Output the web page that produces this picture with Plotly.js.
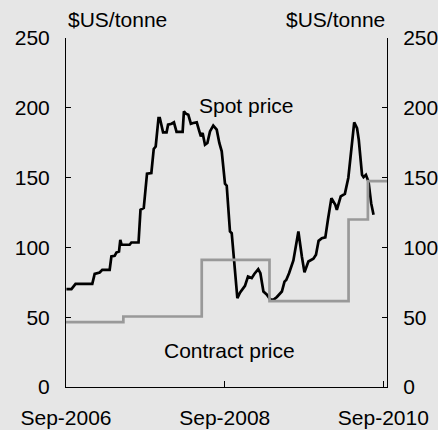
<!DOCTYPE html>
<html>
<head>
<meta charset="utf-8">
<script src="https://cdn.plot.ly/plotly-3.0.1.min.js"></script>
<style>html,body{margin:0;padding:0;background:#e6e6e6;}#chart{width:438px;height:430px;}</style>
</head>
<body>
<div id="chart"></div>
<script>
const spotDates = [
 '2006-09-03','2006-09-26','2006-10-15','2006-12-31','2007-01-11','2007-02-03','2007-02-15','2007-03-21',
 '2007-03-29','2007-04-13','2007-04-21','2007-05-03','2007-05-09','2007-05-15','2007-06-21','2007-06-29',
 '2007-08-01','2007-08-10','2007-08-25','2007-09-09','2007-09-29','2007-10-10','2007-10-19','2007-11-01',
 '2007-11-07','2007-11-22','2007-12-08','2007-12-15','2007-12-31','2008-01-11','2008-01-23','2008-02-20',
 '2008-02-26','2008-03-06','2008-03-17','2008-03-29','2008-04-09','2008-04-25','2008-05-07','2008-05-14',
 '2008-05-22','2008-06-02','2008-06-13','2008-06-25','2008-07-10','2008-07-26','2008-08-07','2008-08-18',
 '2008-08-25','2008-09-02','2008-09-10','2008-09-25','2008-10-03','2008-10-29','2008-11-10','2008-12-03',
 '2008-12-17','2009-01-03','2009-01-15','2009-02-02','2009-02-12','2009-02-26','2009-03-13','2009-03-29',
 '2009-04-13','2009-04-29','2009-05-22','2009-06-03','2009-06-11','2009-06-24','2009-07-14','2009-08-06',
 '2009-08-22','2009-09-03','2009-09-21','2009-10-14','2009-10-26','2009-11-07','2009-11-22','2009-12-08',
 '2009-12-20','2010-01-05','2010-01-23','2010-01-30','2010-02-17','2010-03-08','2010-03-24','2010-04-07',
 '2010-04-20','2010-05-03','2010-05-11','2010-05-26','2010-06-02','2010-06-13','2010-06-25','2010-07-07',
 '2010-07-18'];
const spotValues = [
 70.1,70.1,73.9,73.9,81.0,82.0,83.9,83.9,
 93.5,94.0,96.3,97.0,105.4,101.9,101.9,103.5,
 103.5,126.9,128.2,152.8,153.3,170.5,172.3,192.7,
 192.7,182.4,182.4,187.9,188.6,189.6,182.7,182.7,
 197.4,195.8,195.1,188.6,189.1,189.6,183.1,179.5,
 182.0,173.6,174.8,183.1,187.2,184.3,174.8,168.8,
 158.0,145.6,144.2,111.4,110.2,63.6,67.6,72.4,
 79.1,78.0,81.0,84.4,81.5,68.4,66.3,62.8,
 62.4,64.5,68.4,75.5,76.7,81.5,90.7,111.4,
 93.5,82.1,89.9,91.9,94.7,104.7,106.6,107.2,
 119.8,135.3,130.5,126.9,136.6,138.4,149.9,171.4,
 189.6,185.5,177.1,152.0,150.3,152.0,147.0,131.7,
 123.4];
const contractDates = ['2006-09-01','2007-05-23','2008-05-18','2009-03-26','2010-03-25','2010-06-22','2010-09-18'];
const contractValues = [46.5,50.5,91.0,61.5,120.0,147.5,147.5];
const xTickVals = ['2006-09-01','2008-09-01','2010-09-01'];
const xTickText = ['Sep-2006','Sep-2008','Sep-2010'];
const yTickVals = [0,50,100,150,200,250];
const unitLabel = '$US/tonne';
const spotLabel = 'Spot price';
const contractLabel = 'Contract price';

const FONT = 'Liberation Sans, Arial, sans-serif';
const FS = 21;
const BG = '#e6e6e6';

const traces = [
  {x: contractDates, y: contractValues, type:'scatter', mode:'lines', line:{shape:'hv', color:'#999999', width:2.7}, yaxis:'y2', hoverinfo:'skip'},
  {x: spotDates, y: spotValues, type:'scatter', mode:'lines', line:{color:'#000000', width:2.7}, hoverinfo:'skip'}
];

const yCommon = {
  range:[0,250], tickvals: yTickVals, ticks:'inside', ticklen:5, tickwidth:1, tickcolor:'#000',
  showline:true, linecolor:'#000', linewidth:1, showgrid:false, zeroline:false,
  tickfont:{family:FONT, size:FS, color:'#000'}, ticklabelstandoff:11, fixedrange:true
};

const layout = {
  width:438, height:430,
  margin:{l:66, r:51, t:38, b:43, pad:0},
  paper_bgcolor:BG, plot_bgcolor:BG,
  showlegend:false,
  xaxis:{
    type:'date', range:['2006-09-01','2010-09-18'], tickvals:xTickVals, ticktext:xTickText,
    ticks:'inside', ticklen:6, tickwidth:1, tickcolor:'#000',
    showline:true, linecolor:'#000', linewidth:1, showgrid:false, zeroline:false,
    tickfont:{family:FONT, size:FS, color:'#000'}, ticklabelstandoff:12, fixedrange:true
  },
  yaxis: Object.assign({}, yCommon, {side:'left'}),
  yaxis2: Object.assign({}, yCommon, {side:'right', overlaying:'y'}),
  annotations:[
    {text:unitLabel, xref:'paper', yref:'paper', x:0, y:1.0516, xanchor:'left', yanchor:'middle', showarrow:false, font:{family:FONT, size:FS, color:'#000'}},
    {text:unitLabel, xref:'paper', yref:'paper', x:1, y:1.0516, xanchor:'right', yanchor:'middle', showarrow:false, font:{family:FONT, size:FS, color:'#000'}},
    {text:spotLabel, xref:'paper', yref:'paper', x:0.561, y:0.808, xanchor:'center', yanchor:'middle', showarrow:false, font:{family:FONT, size:FS, color:'#000'}},
    {text:contractLabel, xref:'paper', yref:'paper', x:0.510, y:0.106, xanchor:'center', yanchor:'middle', showarrow:false, font:{family:FONT, size:FS, color:'#000'}}
  ]
};

Plotly.newPlot('chart', traces, layout, {staticPlot:true, displayModeBar:false});
</script>
</body>
</html>
